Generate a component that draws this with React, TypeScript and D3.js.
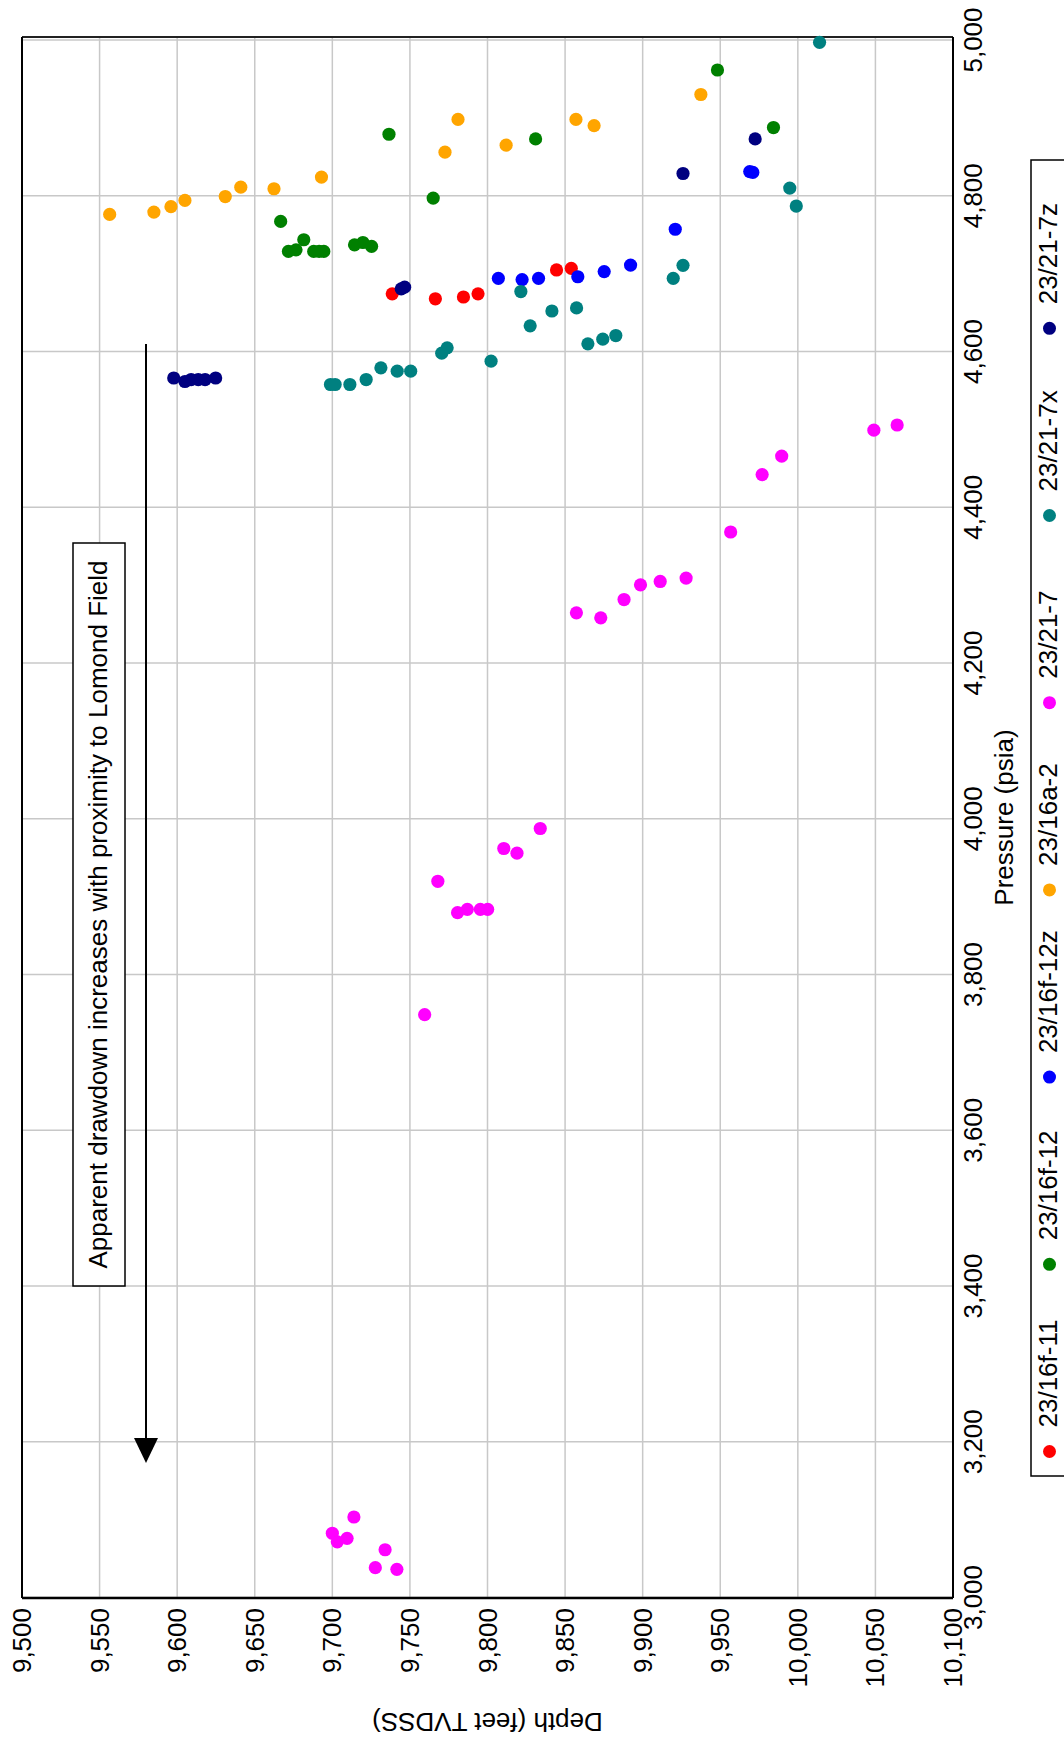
import React from "react";
import * as d3 from "d3";

// [depth (ft TVDSS), pressure (psia)]
const well_23_16f_11: [number, number][] = [
  [9738.6, 4674], [9766.4, 4667.7], [9784.5, 4670], [9793.9, 4674], [9844.5, 4704.7], [9854, 4706.8],
];
const well_23_16f_12: [number, number][] = [
  [9666.7, 4767], [9671.7, 4728.5], [9676.6, 4730.6], [9681.6, 4743.5], [9688, 4728.5], [9691.5, 4728.5],
  [9694.5, 4728.5], [9714.3, 4737], [9719.7, 4740], [9725.3, 4735], [9736.5, 4879], [9765, 4797],
  [9831, 4873], [9948.2, 4961.5], [9984.3, 4887.6],
];
const well_23_16f_12z: [number, number][] = [
  [9807, 4694], [9822.3, 4692.3], [9832.9, 4694], [9858.2, 4696], [9875.2, 4702.6], [9892.2, 4711],
  [9921, 4757], [9969, 4831], [9971, 4830],
];
const well_23_16a_2: [number, number][] = [
  [9556.5, 4776], [9585, 4779], [9596, 4786], [9605, 4794], [9631, 4799], [9641, 4811], [9662.4, 4809],
  [9693, 4824], [9772.6, 4856], [9781, 4898], [9812, 4865], [9857, 4898], [9868.7, 4890], [9937.5, 4930],
];
const well_23_21_7: [number, number][] = [
  [9713.9, 3103.4], [9700, 3082.5], [9703.2, 3071.5], [9709.5, 3076], [9734, 3061.3], [9727.7, 3038.3],
  [9741.6, 3036.2], [9759.5, 3748.5], [9768, 3919.7], [9780.7, 3879.4], [9787, 3883.7], [9795.4, 3883.7],
  [9800.1, 3883.7], [9810.5, 3961.8], [9819, 3955.8], [9834, 3987.5], [9857.3, 4264.4], [9873, 4258],
  [9888, 4281.5], [9898.6, 4300.4], [9911.3, 4304.7], [9928, 4309], [9956.7, 4368.2], [9977, 4442],
  [9989.6, 4465.7], [10049, 4499], [10064, 4505.6],
];
const well_23_21_7x: [number, number][] = [
  [9698.8, 4557.6], [9701.8, 4557.6], [9711.3, 4557.6], [9721.8, 4564], [9731.3, 4579], [9741.8, 4574.7],
  [9750.5, 4574.7], [9770.5, 4597.9], [9774, 4604.7], [9802.3, 4587.6], [9821.5, 4677], [9827.5, 4633],
  [9841.5, 4652], [9857.4, 4656], [9864.7, 4609.8], [9874.3, 4615.8], [9882.7, 4620.5], [9919.7, 4694],
  [9926, 4710.7], [9994.8, 4809.8], [9999, 4786.8], [10014, 4997],
];
const well_23_21_7z: [number, number][] = [
  [9597.8, 4566], [9605, 4561.5], [9609, 4564], [9613.6, 4564], [9618, 4564], [9624.8, 4566],
  [9744.4, 4680.5], [9746.6, 4682.6], [9926, 4828.6], [9972.5, 4873],
];

const seriesNames = ["23/16f-11", "23/16f-12", "23/16f-12z", "23/16a-2", "23/21-7", "23/21-7x", "23/21-7z"];
const seriesColors = ["#ff0000", "#008000", "#0000ff", "#ffa500", "#ff00ff", "#008080", "#000080"];
const seriesData = [well_23_16f_11, well_23_16f_12, well_23_16f_12z, well_23_16a_2, well_23_21_7, well_23_21_7x, well_23_21_7z];

const depthTicks = d3.range(9500, 10100 + 1, 50);
const pressureTicks = d3.range(3000, 5000 + 1, 200);

const annotationText = "Apparent drawdown increases with proximity to Lomond Field";
const depthTitle = "Depth (feet TVDSS)";
const pressureTitle = "Pressure (psia)";

const FONT = "'Liberation Sans', Arial, Helvetica, sans-serif";

export default function App() {
  const W = 1064, H = 1737;
  const left = 22, right = 953, frameTop = 37, frameBottom = 1598;
  const x = d3.scaleLinear().domain([9500, 10100]).range([left, right]);
  const y = d3.scaleLinear().domain([3000, 5000]).range([1597.5, 40]);
  const fmt = d3.format(",");
  const fs = 26;

  const legendTop = 160, legendBottom = 1476, legendLeft = 1031;
  const legendY0 = 1451.5, legendStep = 187.2;
  const legendMarkerX = 1049.5;

  const arrowX = 146, arrowTop = 344, arrowTip = 1463, headLen = 25, headHalf = 12;

  return (
    <svg width={W} height={H} style={{ position: "absolute", left: 0, top: 0, background: "#fff" }} fontFamily={FONT}>
      <rect x={0} y={0} width={W} height={H} fill="#fff" />
      {/* grid */}
      {depthTicks.map((d) => (
        <line key={"gx" + d} x1={x(d)} x2={x(d)} y1={frameTop} y2={frameBottom} stroke="#c8c8c8" strokeWidth={1.5} />
      ))}
      {pressureTicks.map((p) => (
        <line key={"gy" + p} x1={left} x2={right} y1={y(p)} y2={y(p)} stroke="#c8c8c8" strokeWidth={1.5} />
      ))}
      {/* frame */}
      <line x1={left} x2={right} y1={frameTop} y2={frameTop} stroke="#222" strokeWidth={2} />
      <line x1={left} x2={right} y1={frameBottom} y2={frameBottom} stroke="#000" strokeWidth={2.5} />
      <line x1={left} x2={left} y1={frameTop} y2={frameBottom} stroke="#000" strokeWidth={2} />
      <line x1={right} x2={right} y1={frameTop} y2={frameBottom} stroke="#000" strokeWidth={2} />

      {/* annotation box and arrow */}
      <rect x={73} y={543} width={52} height={743} fill="#fff" stroke="#000" strokeWidth={1.5} />
      <text transform={`translate(107,${(543 + 1286) / 2}) rotate(-90)`} textAnchor="middle" fontSize={fs} fill="#000">
        {annotationText}
      </text>
      <line x1={arrowX} x2={arrowX} y1={arrowTop} y2={arrowTip - headLen + 2} stroke="#000" strokeWidth={2} />
      <path d={`M${arrowX - headHalf},${arrowTip - headLen} L${arrowX + headHalf},${arrowTip - headLen} L${arrowX},${arrowTip} Z`} fill="#000" />

      {/* points */}
      {seriesData.map((pts, i) => (
        <g key={seriesNames[i]}>
          {pts.map(([d, p], j) => (
            <circle key={j} cx={x(d)} cy={y(p)} r={6.6} fill={seriesColors[i]} />
          ))}
        </g>
      ))}

      {/* depth tick labels */}
      {depthTicks.map((d) => (
        <text key={"tx" + d} transform={`translate(${x(d) + 9},1608) rotate(-90)`} textAnchor="end" fontSize={fs} fill="#000">
          {fmt(d)}
        </text>
      ))}
      {/* pressure tick labels */}
      {pressureTicks.map((p) => (
        <text key={"ty" + p} transform={`translate(982,${y(p)}) rotate(-90)`} textAnchor="middle" fontSize={fs} fill="#000">
          {fmt(p)}
        </text>
      ))}
      {/* axis titles */}
      <text transform={`translate(${(left + right) / 2},1713) rotate(180)`} textAnchor="middle" fontSize={fs} fill="#000">
        {depthTitle}
      </text>
      <text transform={`translate(1013,${(frameTop + frameBottom) / 2}) rotate(-90)`} textAnchor="middle" fontSize={fs} fill="#000">
        {pressureTitle}
      </text>

      {/* legend */}
      <rect x={legendLeft} y={legendTop} width={60} height={legendBottom - legendTop} fill="#fff" stroke="#000" strokeWidth={1.5} />
      {seriesNames.map((name, i) => {
        const my = legendY0 - i * legendStep;
        return (
          <g key={"lg" + name}>
            <circle cx={legendMarkerX} cy={my} r={6.5} fill={seriesColors[i]} />
            <text transform={`translate(1057,${my - 24}) rotate(-90)`} textAnchor="start" fontSize={fs} fill="#000">
              {name}
            </text>
          </g>
        );
      })}
    </svg>
  );
}
